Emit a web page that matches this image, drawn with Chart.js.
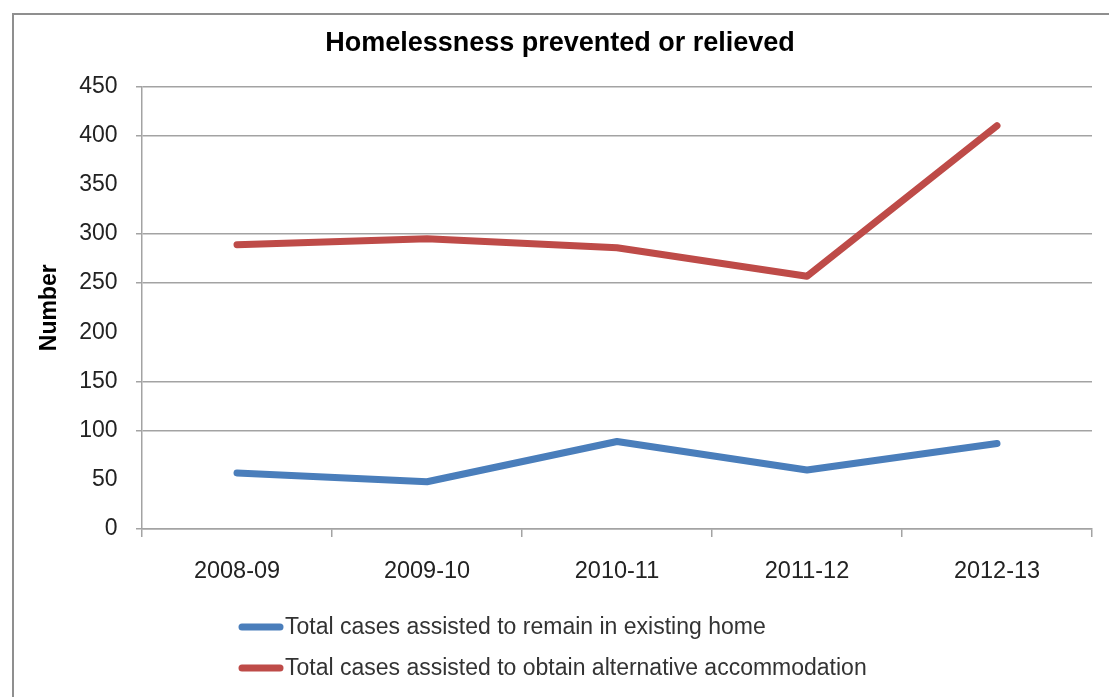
<!DOCTYPE html>
<html>
<head>
<meta charset="utf-8">
<script src="https://cdn.jsdelivr.net/npm/chart.js@4"></script>
<style>
  html, body { margin: 0; padding: 0; background: #fff; overflow: hidden; }
  #frame { position: absolute; left: 12px; top: 13px; width: 1200px; height: 800px; border: 2px solid #8f8f8f; box-sizing: border-box; }
  #wrap { position: absolute; left: 0; top: 0; width: 1109px; height: 697px; }
</style>
</head>
<body>
<div id="frame"></div>
<div id="wrap"><canvas id="c" width="1109" height="697"></canvas></div>
<script>
const categories = ['2008-09', '2009-10', '2010-11', '2011-12', '2012-13'];
const remainHome = [57, 48, 89, 60, 87];
const alternativeAccommodation = [289, 295, 286, 257, 410];
const seriesLabels = ['Total cases assisted to remain in existing home', 'Total cases assisted to obtain alternative accommodation'];
const yTickValues = [0, 50, 100, 150, 200, 250, 300, 350, 400, 450];
const hiddenGridValues = [50, 200, 350];

const FONT = "'Liberation Sans', Arial, sans-serif";
const GRID = '#a3a3a3';
const isHidden = (v) => hiddenGridValues.indexOf(v) >= 0;

const legendPlugin = {
  id: 'customLegend',
  afterDraw(chart) {
    const ctx = chart.ctx;
    const rows = [627, 668];
    ctx.save();
    chart.data.datasets.forEach((ds, i) => {
      const y = rows[i];
      ctx.strokeStyle = ds.borderColor;
      ctx.lineWidth = 7;
      ctx.lineCap = 'round';
      ctx.beginPath();
      ctx.moveTo(242, y);
      ctx.lineTo(280, y);
      ctx.stroke();
      ctx.fillStyle = '#333333';
      ctx.font = "23px " + FONT;
      ctx.textBaseline = 'middle';
      ctx.textAlign = 'left';
      ctx.fillText(ds.label, 285, y + 1);
    });
    ctx.restore();
  }
};

new Chart(document.getElementById('c'), {
  type: 'line',
  data: {
    labels: categories,
    datasets: [
      { label: seriesLabels[0], data: remainHome, borderColor: '#4a7ebb', backgroundColor: '#4a7ebb',
        borderWidth: 7, pointRadius: 0, tension: 0, borderCapStyle: 'round', borderJoinStyle: 'round' },
      { label: seriesLabels[1], data: alternativeAccommodation, borderColor: '#be4b48', backgroundColor: '#be4b48',
        borderWidth: 7, pointRadius: 0, tension: 0, borderCapStyle: 'round', borderJoinStyle: 'round' }
    ]
  },
  options: {
    responsive: false,
    animation: false,
    layout: { padding: { left: 28, right: 17, top: 0, bottom: 108 } },
    plugins: {
      legend: { display: false },
      tooltip: { enabled: false },
      title: {
        display: true,
        text: 'Homelessness prevented or relieved',
        color: '#000',
        font: { family: FONT, size: 27, weight: 'bold' },
        padding: { top: 27, bottom: 27 }
      }
    },
    scales: {
      x: {
        offset: true,
        grid: { offset: true, drawOnChartArea: false, drawTicks: true, tickLength: 8, color: GRID, lineWidth: 1.5 },
        border: { color: GRID, width: 1.5 },
        ticks: { color: '#222', font: { family: FONT, size: 23.5 }, padding: 20, maxRotation: 0 },
        afterFit(scale) { scale.height = 60; }
      },
      y: {
        min: 0, max: 450,
        afterBuildTicks(scale) { scale.ticks = yTickValues.map(v => ({ value: v })); },
        ticks: { color: '#222', font: { family: FONT, size: 23 }, padding: 18.5 },
        grid: {
          color: yTickValues.map(v => isHidden(v) ? 'rgba(255,255,255,0)' : GRID),
          lineWidth: yTickValues.map(v => isHidden(v) ? 0 : 1.5),
          tickLength: 6, drawTicks: true
        },
        border: { color: GRID, width: 1.5 },
        title: {
          display: true, text: 'Number', color: '#000',
          font: { family: FONT, size: 23, weight: 'bold' },
          padding: { top: 8, bottom: 0 }
        },
        afterFit(scale) { scale.width = 114; }
      }
    }
  },
  plugins: [legendPlugin]
});
</script>
</body>
</html>
